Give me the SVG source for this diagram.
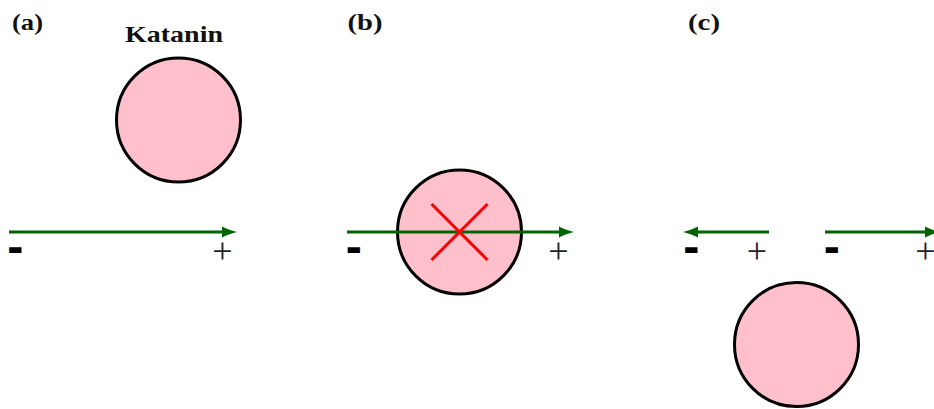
<svg xmlns="http://www.w3.org/2000/svg" width="934" height="409" viewBox="0 0 934 409">
<defs>
<style>
.lbl{font-family:"Liberation Serif","Times New Roman",serif;font-weight:bold;font-size:23px;fill:#111}
.prot{fill:#FFC0CB;stroke:#000;stroke-width:3}
.mt{stroke:#006400;stroke-width:3;fill:none;marker-end:url(#ah)}
.minus{font-family:"DejaVu Sans",sans-serif;font-weight:bold;font-size:40px;fill:#000}
.plus{font-family:"Liberation Serif","Times New Roman",serif;font-size:36px;fill:#222;text-anchor:middle}
.x{stroke:#FF0000;stroke-width:3}
</style>
<marker id="ah" markerUnits="userSpaceOnUse" viewBox="0 0 16 12" markerWidth="16" markerHeight="12" refX="7.5" refY="6" orient="auto">
<path d="M15.5,6 C11,5 5,3 0.5,0.6 L0.5,11.4 C5,9 11,7 15.5,6 Z" fill="#006400"/>
</marker>
</defs>
<g id="panel-labels">
<text class="lbl" x="12" y="29.5" textLength="31" lengthAdjust="spacingAndGlyphs">(a)</text>
<text class="lbl" x="347.5" y="29.5" textLength="35" lengthAdjust="spacingAndGlyphs">(b)</text>
<text class="lbl" x="688" y="29.5" textLength="32" lengthAdjust="spacingAndGlyphs">(c)</text>
</g>
<g id="katanin-a">
<text class="lbl" x="125" y="42" textLength="98" lengthAdjust="spacingAndGlyphs">Katanin</text>
<circle class="prot" cx="178.5" cy="120" r="62"/>
</g>
<g id="katanin-b">
<circle class="prot" cx="459.5" cy="232" r="62"/>
</g>
<g id="katanin-c">
<circle class="prot" cx="796.5" cy="344.5" r="62"/>
</g>
<g id="connectors">
<path class="mt" d="M9,232 H229"/>
<path class="mt" d="M347,232 H566"/>
<path class="mt" d="M769,232 H691"/>
<path class="mt" d="M825,232 H932"/>
</g>
<g id="block-mark">
<path class="x" d="M431.5,204 L487.5,260 M487.5,204 L431.5,260"/>
</g>
<g id="polarity">
<text class="minus" x="7" y="262">-</text>
<text class="plus" x="222.5" y="263">+</text>
<text class="minus" x="345.5" y="262">-</text>
<text class="plus" x="558.3" y="263">+</text>
<text class="minus" x="683" y="262">-</text>
<text class="plus" x="757" y="263">+</text>
<text class="minus" x="823.5" y="262">-</text>
<text class="plus" x="925.5" y="263">+</text>
</g>
</svg>
